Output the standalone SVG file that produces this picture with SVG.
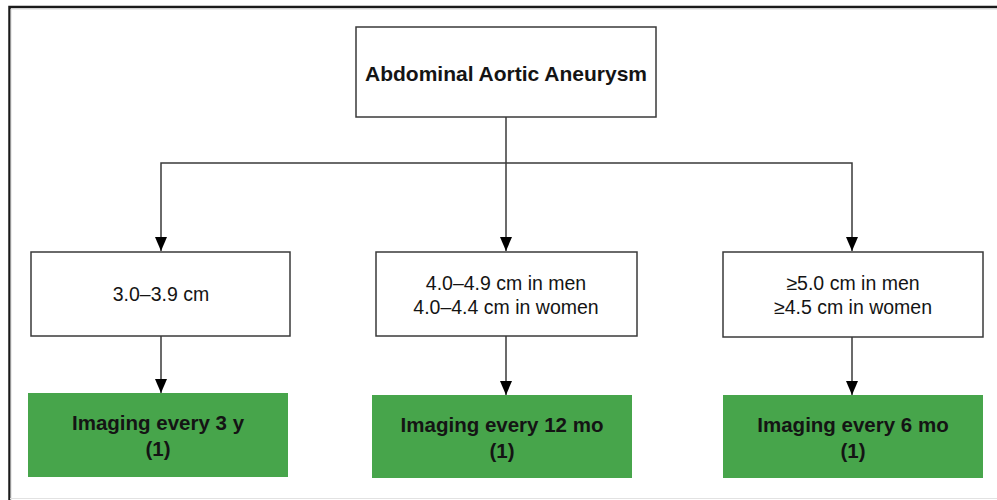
<svg xmlns="http://www.w3.org/2000/svg" width="997" height="500" viewBox="0 0 997 500">
<style>
.box{fill:#fff;stroke:#3a3a3a;stroke-width:1.5}
.green{fill:#47a54b;stroke:none}
.t{font-family:"Liberation Sans",Arial,sans-serif;fill:#141414;text-anchor:middle}
.title{font-size:21px;font-weight:bold}
.reg{font-size:19.5px}
.bold{font-size:20.5px;font-weight:bold}
.conn{fill:none;stroke:#3a3a3a;stroke-width:1.5}
</style>
<defs>
<marker id="arr" viewBox="0 0 14 12" refX="14" refY="6" markerWidth="14" markerHeight="12" markerUnits="userSpaceOnUse" orient="auto-start-reverse">
<path d="M0 0 L14 6 L0 12 Z" fill="#000"/>
</marker>
</defs>
<rect width="997" height="500" fill="#fff"/>
<g id="frame">
<path d="M9.5 500 V7 H997" fill="none" stroke="#1a1a1a" stroke-width="2.5"/>
<path d="M11 500 V9 H997" fill="none" stroke="#d8d8d8" stroke-width="1"/>
<line x1="10" y1="498.5" x2="997" y2="498.5" stroke="#e2e2e2" stroke-width="1"/>
</g>
<g id="connectors">
<line class="conn" x1="506" y1="117" x2="506" y2="163"/>
<path class="conn" d="M161 251 V163 H852 V251" marker-start="url(#arr)" marker-end="url(#arr)"/>
<line class="conn" x1="506" y1="163" x2="506" y2="251" marker-end="url(#arr)"/>
<line class="conn" x1="161" y1="336" x2="161" y2="393" marker-end="url(#arr)"/>
<line class="conn" x1="506" y1="336" x2="506" y2="395" marker-end="url(#arr)"/>
<line class="conn" x1="852" y1="337" x2="852" y2="395" marker-end="url(#arr)"/>
</g>
<g id="root">
<rect class="box" x="356" y="27" width="300" height="90"/>
<text class="t title" x="506" y="81">Abdominal Aortic Aneurysm</text>
</g>
<g id="size-small">
<rect class="box" x="31" y="252" width="259" height="84"/>
<text class="t reg" x="161" y="301">3.0–3.9 cm</text>
</g>
<g id="size-medium">
<rect class="box" x="376" y="252" width="261" height="84"/>
<text class="t reg" x="506" y="290">4.0–4.9 cm in men</text>
<text class="t reg" x="506" y="314">4.0–4.4 cm in women</text>
</g>
<g id="size-large">
<rect class="box" x="723" y="252" width="260" height="85"/>
<text class="t reg" x="853" y="290">≥5.0 cm in men</text>
<text class="t reg" x="853" y="314">≥4.5 cm in women</text>
</g>
<g id="imaging-3y">
<rect class="green" x="28" y="393" width="260" height="84"/>
<text class="t bold" x="158" y="430">Imaging every 3 y</text>
<text class="t bold" x="158" y="456">(1)</text>
</g>
<g id="imaging-12mo">
<rect class="green" x="372" y="395" width="260" height="83"/>
<text class="t bold" x="502" y="432">Imaging every 12 mo</text>
<text class="t bold" x="502" y="458">(1)</text>
</g>
<g id="imaging-6mo">
<rect class="green" x="723" y="395" width="260" height="83"/>
<text class="t bold" x="853" y="432">Imaging every 6 mo</text>
<text class="t bold" x="853" y="458">(1)</text>
</g>
</svg>
